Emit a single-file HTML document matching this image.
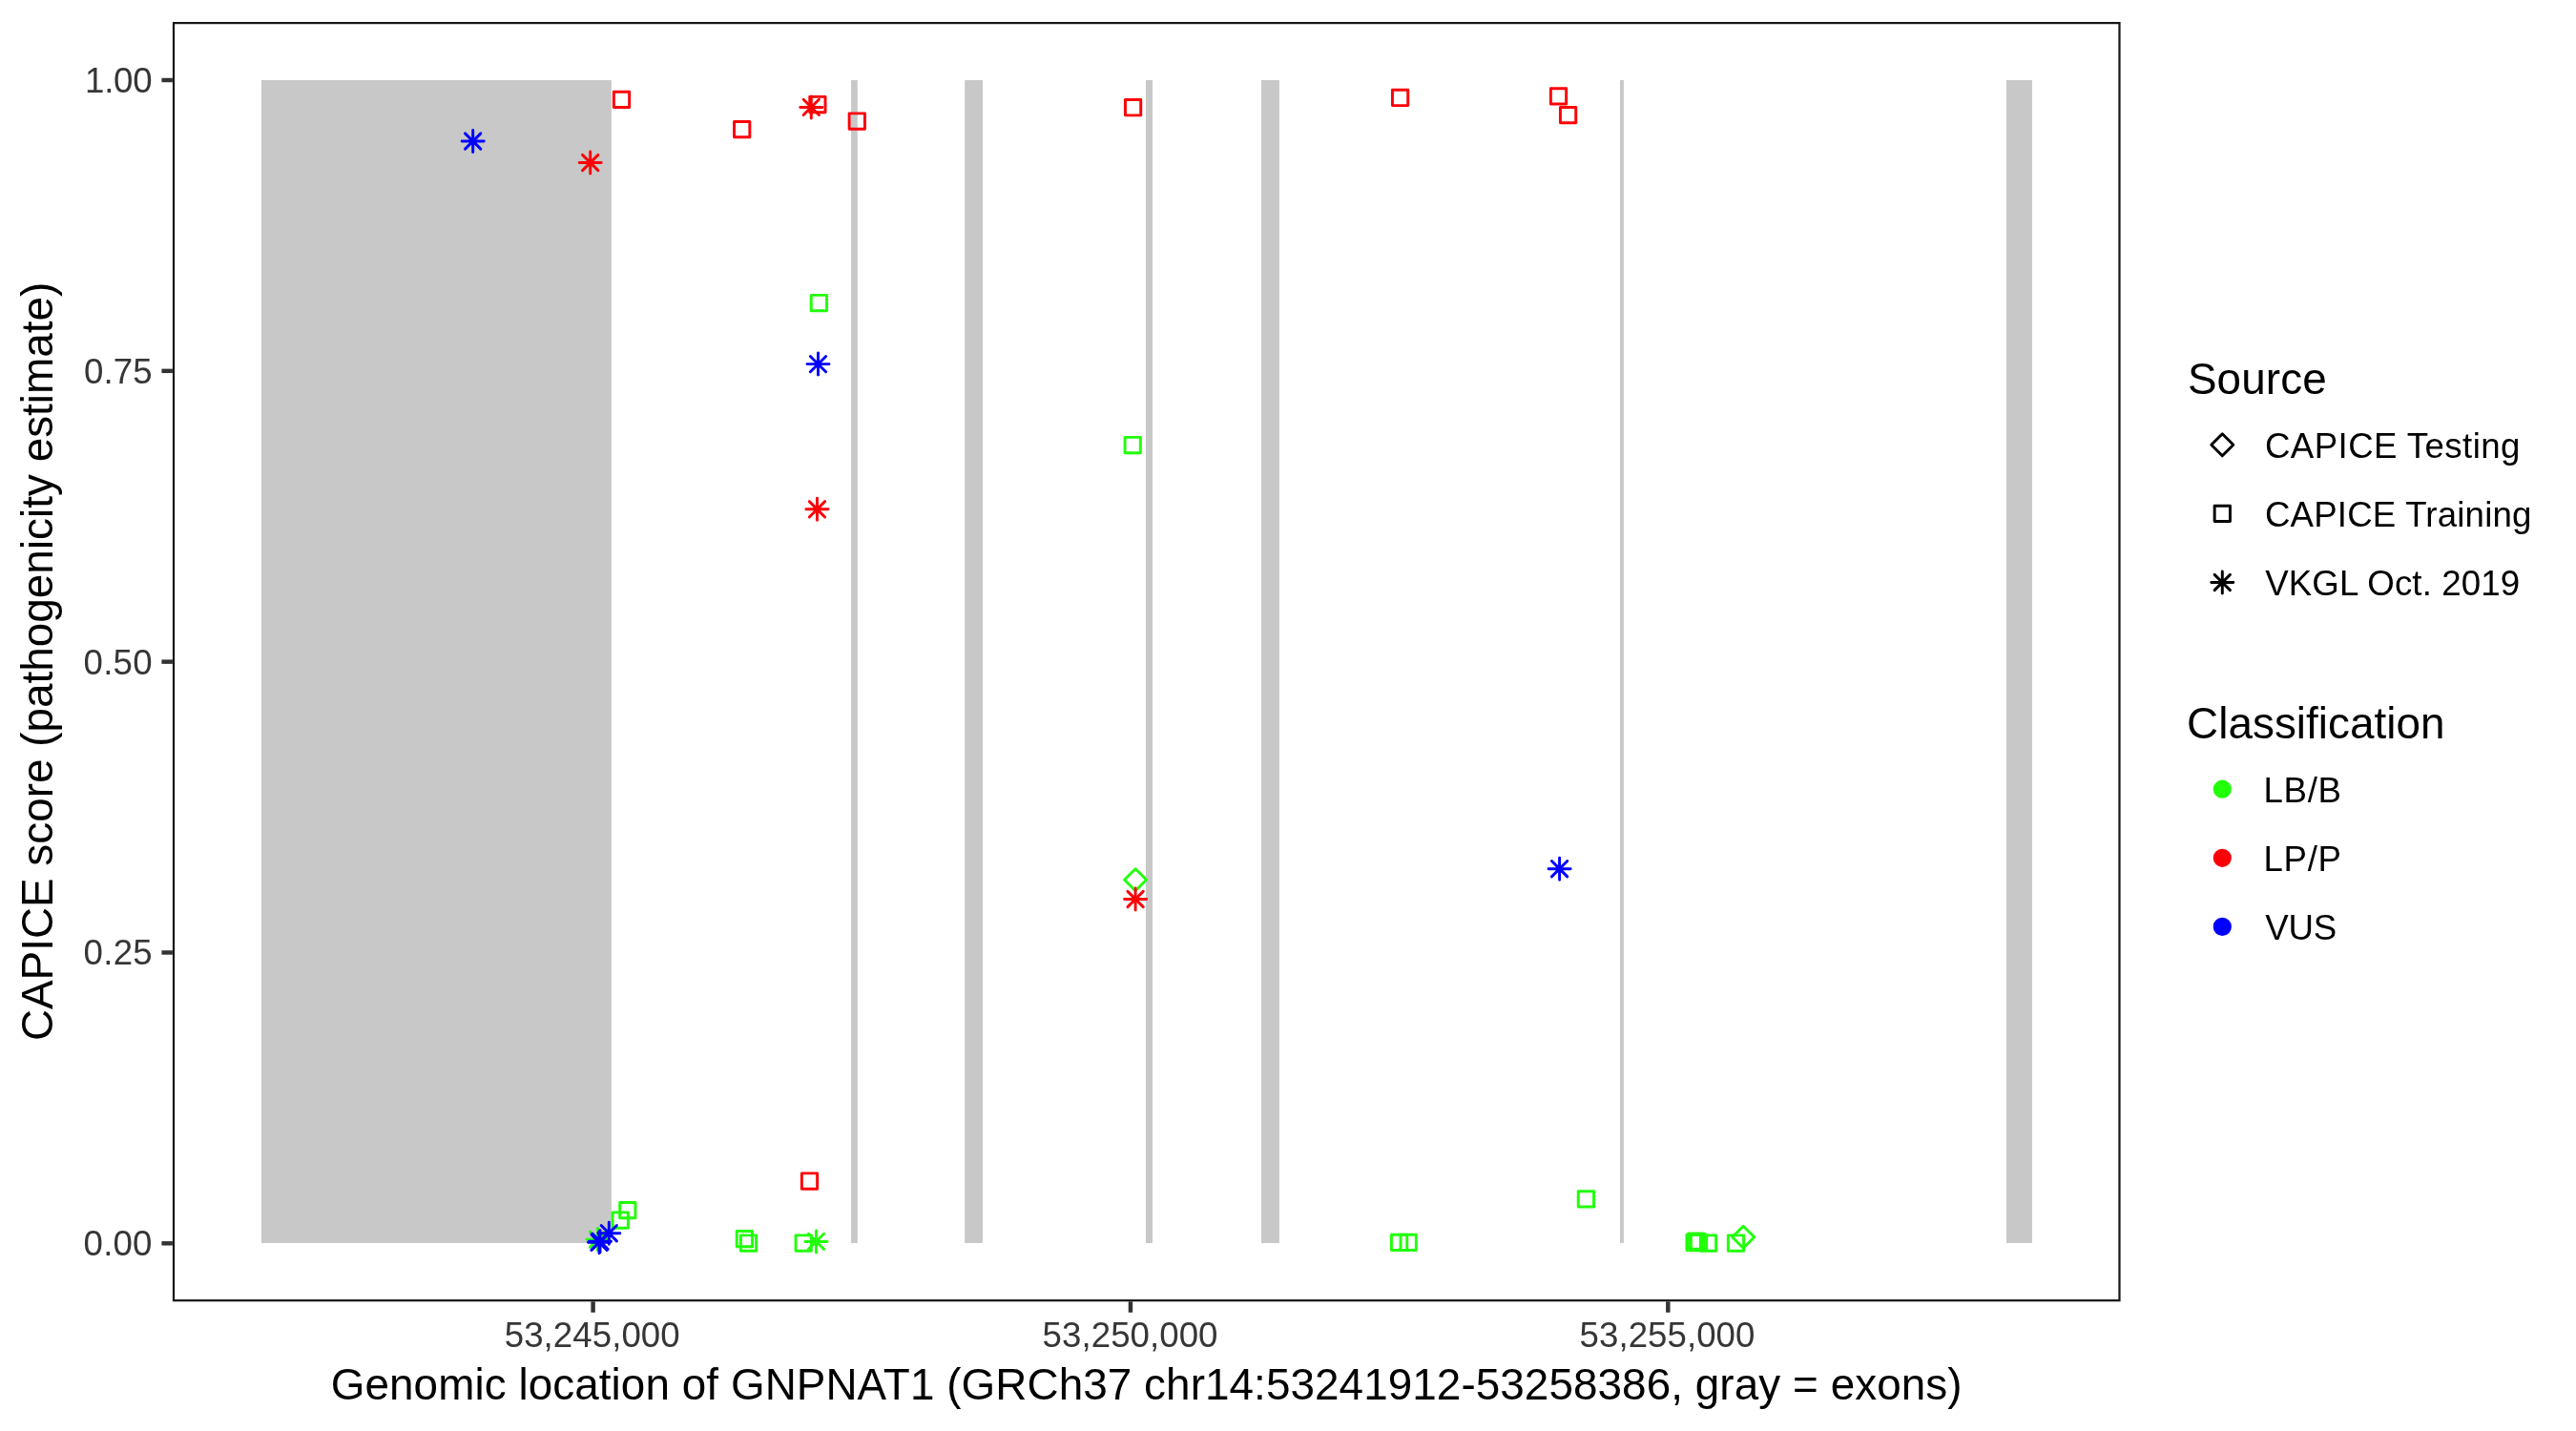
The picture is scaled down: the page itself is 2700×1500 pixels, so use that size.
<!DOCTYPE html>
<html><head><meta charset="utf-8"><title>CAPICE score plot</title>
<style>
html,body{margin:0;padding:0;background:#fff;}
body{width:2700px;height:1500px;overflow:hidden;}
svg{display:block;will-change:transform;}
text{font-family:"Liberation Sans",sans-serif;}
.ax{font-size:36.67px;fill:#363636;}
.ti{font-size:45.83px;fill:#000;}
.lg{font-size:36.67px;fill:#000;}
</style></head><body>
<svg width="2700" height="1500" viewBox="0 0 2700 1500">
<rect x="0" y="0" width="2700" height="1500" fill="#ffffff"/>
<rect x="274" y="84" width="366.85" height="1219" fill="#c8c8c8"/>
<rect x="892.1" y="84" width="6.7" height="1219" fill="#c8c8c8"/>
<rect x="1011.2" y="84" width="18.8" height="1219" fill="#c8c8c8"/>
<rect x="1201" y="84" width="7" height="1219" fill="#c8c8c8"/>
<rect x="1322" y="84" width="18.9" height="1219" fill="#c8c8c8"/>
<rect x="1698" y="84" width="3.9" height="1219" fill="#c8c8c8"/>
<rect x="2103" y="84" width="26.9" height="1219" fill="#c8c8c8"/>
<path d="M1178.58 922.3L1190.1 910.78L1201.62 922.3L1190.1 933.82Z" fill="none" stroke="#22ff0a" stroke-width="2.95" stroke-linejoin="round"/>
<path d="M1815.68 1296.8L1827.2 1285.28L1838.72 1296.8L1827.2 1308.32Z" fill="none" stroke="#22ff0a" stroke-width="2.95" stroke-linejoin="round"/>
<rect x="643.36" y="96.26" width="16.29" height="16.29" fill="none" stroke="#fb0207" stroke-width="2.95" stroke-linejoin="round"/>
<rect x="769.56" y="127.45" width="16.29" height="16.29" fill="none" stroke="#fb0207" stroke-width="2.95" stroke-linejoin="round"/>
<rect x="848.75" y="101.36" width="16.29" height="16.29" fill="none" stroke="#fb0207" stroke-width="2.95" stroke-linejoin="round"/>
<rect x="890.15" y="118.86" width="16.29" height="16.29" fill="none" stroke="#fb0207" stroke-width="2.95" stroke-linejoin="round"/>
<rect x="1179.45" y="104.56" width="16.29" height="16.29" fill="none" stroke="#fb0207" stroke-width="2.95" stroke-linejoin="round"/>
<rect x="1459.45" y="94.31" width="16.29" height="16.29" fill="none" stroke="#fb0207" stroke-width="2.95" stroke-linejoin="round"/>
<rect x="1625.36" y="92.66" width="16.29" height="16.29" fill="none" stroke="#fb0207" stroke-width="2.95" stroke-linejoin="round"/>
<rect x="1635.45" y="112.45" width="16.29" height="16.29" fill="none" stroke="#fb0207" stroke-width="2.95" stroke-linejoin="round"/>
<rect x="840.36" y="1229.86" width="16.29" height="16.29" fill="none" stroke="#fb0207" stroke-width="2.95" stroke-linejoin="round"/>
<rect x="850.25" y="309.36" width="16.29" height="16.29" fill="none" stroke="#22ff0a" stroke-width="2.95" stroke-linejoin="round"/>
<rect x="1179.06" y="458.36" width="16.29" height="16.29" fill="none" stroke="#22ff0a" stroke-width="2.95" stroke-linejoin="round"/>
<rect x="649.65" y="1260.45" width="16.29" height="16.29" fill="none" stroke="#22ff0a" stroke-width="2.95" stroke-linejoin="round"/>
<rect x="642.06" y="1270.86" width="16.29" height="16.29" fill="none" stroke="#22ff0a" stroke-width="2.95" stroke-linejoin="round"/>
<rect x="772.25" y="1290.45" width="16.29" height="16.29" fill="none" stroke="#22ff0a" stroke-width="2.95" stroke-linejoin="round"/>
<rect x="776.36" y="1294.86" width="16.29" height="16.29" fill="none" stroke="#22ff0a" stroke-width="2.95" stroke-linejoin="round"/>
<rect x="834.06" y="1294.86" width="16.29" height="16.29" fill="none" stroke="#22ff0a" stroke-width="2.95" stroke-linejoin="round"/>
<rect x="1458.45" y="1294.26" width="16.29" height="16.29" fill="none" stroke="#22ff0a" stroke-width="2.95" stroke-linejoin="round"/>
<rect x="1468.06" y="1294.26" width="16.29" height="16.29" fill="none" stroke="#22ff0a" stroke-width="2.95" stroke-linejoin="round"/>
<rect x="1654.26" y="1248.76" width="16.29" height="16.29" fill="none" stroke="#22ff0a" stroke-width="2.95" stroke-linejoin="round"/>
<rect x="1767.95" y="1294.15" width="16.29" height="16.29" fill="none" stroke="#22ff0a" stroke-width="2.95" stroke-linejoin="round"/>
<rect x="1769.86" y="1292.86" width="16.29" height="16.29" fill="none" stroke="#22ff0a" stroke-width="2.95" stroke-linejoin="round"/>
<rect x="1772.36" y="1294.36" width="16.29" height="16.29" fill="none" stroke="#22ff0a" stroke-width="2.95" stroke-linejoin="round"/>
<rect x="1782.36" y="1294.86" width="16.29" height="16.29" fill="none" stroke="#22ff0a" stroke-width="2.95" stroke-linejoin="round"/>
<rect x="1811.36" y="1294.86" width="16.29" height="16.29" fill="none" stroke="#22ff0a" stroke-width="2.95" stroke-linejoin="round"/>
<path d="M487.56 139.85L503.84 156.15M487.56 156.15L503.84 139.85M484.18 148L507.22 148M495.7 136.48L495.7 159.52" fill="none" stroke="#0000ff" stroke-width="2.95" stroke-linecap="round"/>
<path d="M610.56 162.35L626.85 178.65M610.56 178.65L626.85 162.35M607.18 170.5L630.22 170.5M618.7 158.98L618.7 182.02" fill="none" stroke="#fb0207" stroke-width="2.95" stroke-linecap="round"/>
<path d="M842.15 104.26L858.44 120.55M842.15 120.55L858.44 104.26M838.78 112.4L861.82 112.4M850.3 100.88L850.3 123.92" fill="none" stroke="#fb0207" stroke-width="2.95" stroke-linecap="round"/>
<path d="M849.36 373.46L865.64 389.75M849.36 389.75L865.64 373.46M845.98 381.6L869.02 381.6M857.5 370.08L857.5 393.12" fill="none" stroke="#0000ff" stroke-width="2.95" stroke-linecap="round"/>
<path d="M848.31 525.65L864.6 541.94M848.31 541.94L864.6 525.65M844.93 533.8L867.97 533.8M856.45 522.28L856.45 545.32" fill="none" stroke="#fb0207" stroke-width="2.95" stroke-linecap="round"/>
<path d="M1181.95 934.36L1198.24 950.64M1181.95 950.64L1198.24 934.36M1178.58 942.5L1201.62 942.5M1190.1 930.98L1190.1 954.02" fill="none" stroke="#fb0207" stroke-width="2.95" stroke-linecap="round"/>
<path d="M1626.45 902.56L1642.74 918.85M1626.45 918.85L1642.74 902.56M1623.08 910.7L1646.12 910.7M1634.6 899.18L1634.6 922.22" fill="none" stroke="#0000ff" stroke-width="2.95" stroke-linecap="round"/>
<path d="M618.36 1290.95L634.64 1307.24M618.36 1307.24L634.64 1290.95M614.98 1299.1L638.02 1299.1M626.5 1287.58L626.5 1310.62" fill="none" stroke="#22ff0a" stroke-width="2.95" stroke-linecap="round"/>
<path d="M847.36 1293.26L863.64 1309.55M847.36 1309.55L863.64 1293.26M843.98 1301.4L867.02 1301.4M855.5 1289.88L855.5 1312.92" fill="none" stroke="#22ff0a" stroke-width="2.95" stroke-linecap="round"/>
<path d="M630.15 1284.56L646.44 1300.85M630.15 1300.85L646.44 1284.56M626.78 1292.7L649.82 1292.7M638.3 1281.18L638.3 1304.22" fill="none" stroke="#0000ff" stroke-width="2.95" stroke-linecap="round"/>
<path d="M619.86 1294.06L636.14 1310.35M619.86 1310.35L636.14 1294.06M616.48 1302.2L639.52 1302.2M628 1290.68L628 1313.72" fill="none" stroke="#0000ff" stroke-width="2.95" stroke-linecap="round"/>
<path d="M620.86 1293.06L637.14 1309.35M620.86 1309.35L637.14 1293.06M617.48 1301.2L640.52 1301.2M629 1289.68L629 1312.72" fill="none" stroke="#0000ff" stroke-width="2.95" stroke-linecap="round"/>
<rect x="182.01" y="24.11" width="2039.48" height="1339.08" fill="none" stroke="#161616" stroke-width="2.22"/>
<line x1="169.44" y1="1303.3" x2="180.9" y2="1303.3" stroke="#333333" stroke-width="4.45"/>
<text id="y000" x="87.59" y="1316.3" class="ax" textLength="71.83" lengthAdjust="spacing">0.00</text>
<line x1="169.44" y1="998.47" x2="180.9" y2="998.47" stroke="#333333" stroke-width="4.45"/>
<text id="y025" x="87.59" y="1011.47" class="ax" textLength="72.11" lengthAdjust="spacing">0.25</text>
<line x1="169.44" y1="693.65" x2="180.9" y2="693.65" stroke="#333333" stroke-width="4.45"/>
<text id="y050" x="87.59" y="706.65" class="ax" textLength="71.94" lengthAdjust="spacing">0.50</text>
<line x1="169.44" y1="388.83" x2="180.9" y2="388.83" stroke="#333333" stroke-width="4.45"/>
<text id="y075" x="87.89" y="401.83" class="ax" textLength="71.81" lengthAdjust="spacing">0.75</text>
<line x1="169.44" y1="84" x2="180.9" y2="84" stroke="#333333" stroke-width="4.45"/>
<text id="y100" x="89.09" y="97" class="ax" textLength="70.45" lengthAdjust="spacing">1.00</text>
<line x1="621.6" y1="1364.3" x2="621.6" y2="1375.76" stroke="#333333" stroke-width="4.45"/>
<text id="x245" x="528.74" y="1412.1" class="ax" textLength="183.91" lengthAdjust="spacing">53,245,000</text>
<line x1="1184.95" y1="1364.3" x2="1184.95" y2="1375.76" stroke="#333333" stroke-width="4.45"/>
<text id="x250" x="1092.59" y="1412.1" class="ax" textLength="183.91" lengthAdjust="spacing">53,250,000</text>
<line x1="1748.3" y1="1364.3" x2="1748.3" y2="1375.76" stroke="#333333" stroke-width="4.45"/>
<text id="x255" x="1655.54" y="1412.1" class="ax" textLength="183.90" lengthAdjust="spacing">53,255,000</text>
<text id="xt" x="346.76" y="1467" class="ti" textLength="1709.82" lengthAdjust="spacing">Genomic location of GNPNAT1 (GRCh37 chr14:53241912-53258386, gray = exons)</text>
<text id="yt" transform="translate(55 1091.12) rotate(-90)" x="0" y="0" class="ti" textLength="795.38" lengthAdjust="spacing">CAPICE score (pathogenicity estimate)</text>
<text id="src" x="2292.88" y="413" class="ti" textLength="145.90" lengthAdjust="spacing">Source</text>
<path d="M2317.78 466.3L2329.3 454.78L2340.82 466.3L2329.3 477.82Z" fill="none" stroke="#000000" stroke-width="2.95" stroke-linejoin="round"/>
<text id="l1" x="2373.94" y="480.1" class="lg" textLength="267.47" lengthAdjust="spacing">CAPICE Testing</text>
<rect x="2321.16" y="530.25" width="16.29" height="16.29" fill="none" stroke="#000000" stroke-width="2.95" stroke-linejoin="round"/>
<text id="l2" x="2373.94" y="552.2" class="lg" textLength="279.47" lengthAdjust="spacing">CAPICE Training</text>
<path d="M2321.16 602.36L2337.45 618.64M2321.16 618.64L2337.45 602.36M2317.78 610.5L2340.82 610.5M2329.3 598.98L2329.3 622.02" fill="none" stroke="#000000" stroke-width="2.95" stroke-linecap="round"/>
<text id="l3" x="2374.26" y="624.3" class="lg" textLength="266.76" lengthAdjust="spacing">VKGL Oct. 2019</text>
<text id="cls" x="2292.12" y="773.8" class="ti" textLength="270.30" lengthAdjust="spacing">Classification</text>
<circle cx="2329.3" cy="827.2" r="8.14" fill="#22ff0a" stroke="#22ff0a" stroke-width="2.95"/>
<text id="l4" x="2372.6" y="840.6" class="lg" textLength="81.28" lengthAdjust="spacing">LB/B</text>
<circle cx="2329.3" cy="899.3" r="8.14" fill="#fb0207" stroke="#fb0207" stroke-width="2.95"/>
<text id="l5" x="2372.6" y="912.7" class="lg" textLength="81.37" lengthAdjust="spacing">LP/P</text>
<circle cx="2329.3" cy="971.4" r="8.14" fill="#0000ff" stroke="#0000ff" stroke-width="2.95"/>
<text id="l6" x="2374.26" y="984.8" class="lg" textLength="75.06" lengthAdjust="spacing">VUS</text>
</svg>
</body></html>
